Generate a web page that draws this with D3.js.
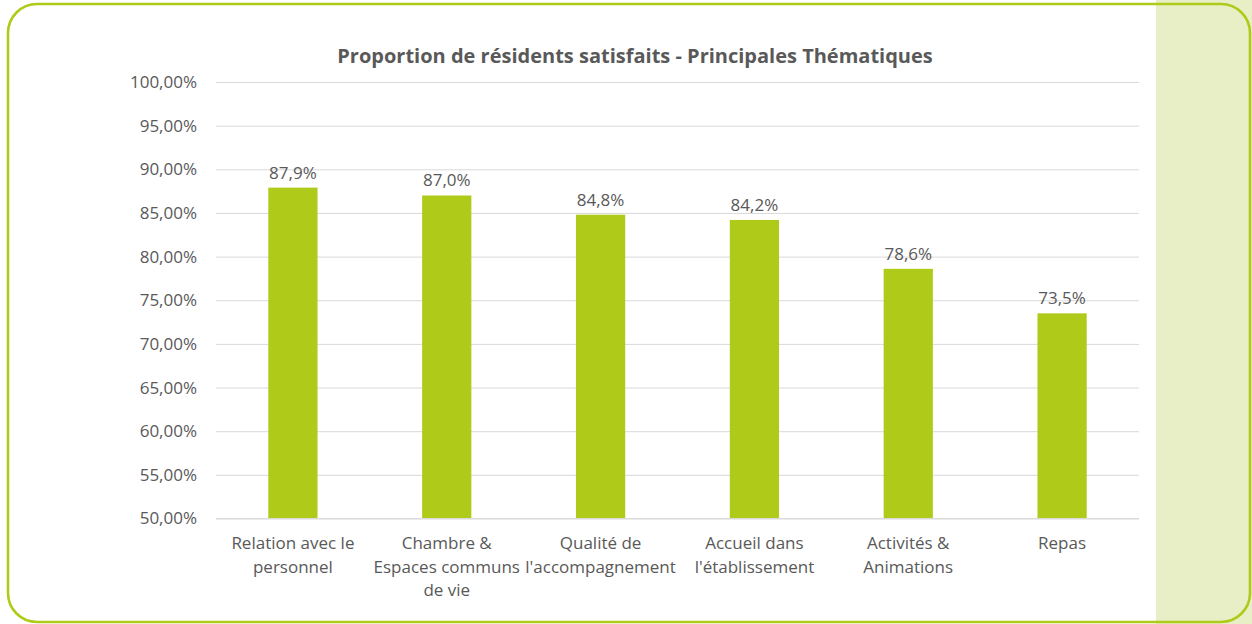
<!DOCTYPE html>
<html>
<head>
<meta charset="utf-8">
<script src="https://cdn.jsdelivr.net/npm/d3@7/dist/d3.min.js"></script>
<style>
  html, body { margin: 0; padding: 0; background: #ffffff; }
  svg { display: block; }
</style>
</head>
<body>
<svg id="chart" width="1252" height="624"></svg>
<script>
const categories = [
  "Relation avec le personnel",
  "Chambre & Espaces communs de vie",
  "Qualité de l'accompagnement",
  "Accueil dans l'établissement",
  "Activités & Animations",
  "Repas"
];
const categoryLines = [
  ["Relation avec le", "personnel"],
  ["Chambre &", "Espaces communs", "de vie"],
  ["Qualité de", "l'accompagnement"],
  ["Accueil dans", "l'établissement"],
  ["Activités &", "Animations"],
  ["Repas"]
];
const values = [87.9, 87.0, 84.8, 84.2, 78.6, 73.5];
const valueLabels = ["87,9%", "87,0%", "84,8%", "84,2%", "78,6%", "73,5%"];
const yTicks = [50, 55, 60, 65, 70, 75, 80, 85, 90, 95, 100];
const yTickLabels = ["50,00%", "55,00%", "60,00%", "65,00%", "70,00%", "75,00%", "80,00%", "85,00%", "90,00%", "95,00%", "100,00%"];
const title = "Proportion de résidents satisfaits - Principales Thématiques";

const FONT = "'Open Sans', sans-serif";
const TEXT = "#595959";
const BAR = "#afca19";
const GREEN = "#afca19";

const svg = d3.select("#chart");

// right side panel
svg.append("rect").attr("x", 1156).attr("y", 0).attr("width", 96).attr("height", 624).attr("fill", "#e8efc6");

// rounded frame
svg.append("rect")
  .attr("x", 8).attr("y", 4).attr("width", 1242).attr("height", 618)
  .attr("rx", 29).attr("ry", 29)
  .attr("fill", "none").attr("stroke", GREEN).attr("stroke-width", 2.6);

const plot = { left: 216, right: 1139, top: 82, bottom: 518.5 };

const x = d3.scaleBand()
  .domain(categories)
  .range([plot.left, plot.right])
  .paddingInner(0.68)
  .paddingOuter(0.34);

const y = d3.scaleLinear().domain([50, 100]).range([plot.bottom, plot.top]);

// gridlines
const yAxis = d3.axisLeft(y)
  .tickValues(yTicks)
  .tickSize(-(plot.right - plot.left))
  .tickPadding(19)
  .tickFormat((d, i) => yTickLabels[i]);

const gy = svg.append("g").attr("transform", `translate(${plot.left},0)`).call(yAxis);
gy.select(".domain").remove();
gy.selectAll(".tick line").attr("stroke", "#d9d9d9").attr("stroke-width", 1);
gy.selectAll(".tick text")
  .attr("fill", TEXT).style("font-family", FONT).style("font-size", "17px");

// bars
svg.append("g").selectAll("rect")
  .data(values)
  .join("rect")
  .attr("x", (d, i) => x(categories[i]))
  .attr("y", d => y(d))
  .attr("width", x.bandwidth())
  .attr("height", d => y(50) - y(d))
  .attr("fill", BAR);

// axis baseline redraw on top
svg.append("line")
  .attr("x1", plot.left).attr("x2", plot.right)
  .attr("y1", y(50)).attr("y2", y(50))
  .attr("stroke", "#d9d9d9").attr("stroke-width", 1);

// data labels
svg.append("g").selectAll("text")
  .data(values)
  .join("text")
  .attr("x", (d, i) => x(categories[i]) + x.bandwidth() / 2)
  .attr("y", d => y(d) - 9)
  .attr("text-anchor", "middle")
  .attr("fill", TEXT)
  .style("font-family", FONT).style("font-size", "17px")
  .text((d, i) => valueLabels[i]);

// category labels
const xl = svg.append("g");
categories.forEach((c, i) => {
  const t = xl.append("text")
    .attr("text-anchor", "middle")
    .attr("fill", TEXT)
    .style("font-family", FONT).style("font-size", "17px");
  categoryLines[i].forEach((line, j) => {
    t.append("tspan")
      .attr("x", x(c) + x.bandwidth() / 2)
      .attr("y", 549 + j * 23.5)
      .text(line);
  });
});

// title
svg.append("text")
  .attr("x", 635).attr("y", 63)
  .attr("text-anchor", "middle")
  .attr("fill", TEXT)
  .style("font-family", FONT).style("font-size", "20px").style("font-weight", "bold")
  .text(title);
</script>
</body>
</html>
